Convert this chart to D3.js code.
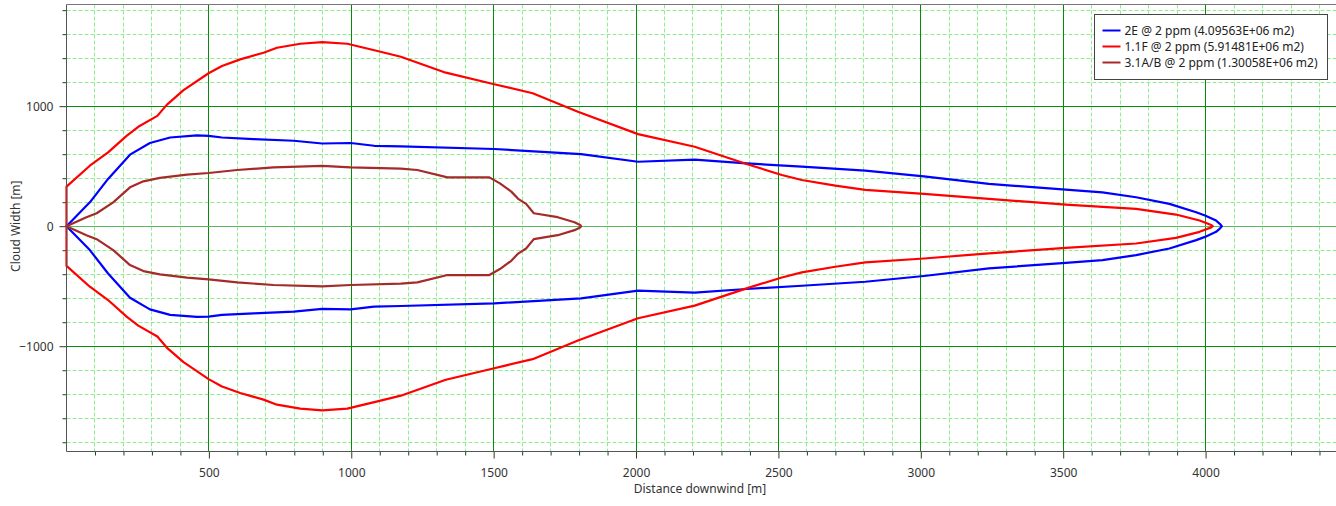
<!DOCTYPE html>
<head>
	<meta charset="utf-8">
	<script src="https://d3js.org/d3.v7.min.js"></script>
	<style>
		body { margin: 0; background: #fff; }
		text { font-family: "Noto Sans", "Open Sans", sans-serif; }
	</style>
</head>
<body>
	<div id="chart"></div>
	<script>

	var width = 1336,
	height = 506;

	var dist2E = [0, 82, 146, 223, 293, 364, 458, 499, 546, 657, 798, 898, 998, 1080, 1174, 1502, 1807, 2007, 2206, 2388, 2582, 2805, 3011, 3239, 3509, 3638, 3756, 3873, 3967, 3998, 4037, 4050, 4057];
	var half2E = [0, 199, 394, 596, 693, 739, 756, 753, 739, 726, 712, 689, 693, 670, 665, 643, 601, 537, 554, 523, 496, 463, 415, 352, 305, 282, 241, 186, 116, 89, 47, 20, 0];

	var dist11F = [0, 82, 146, 211, 252, 319, 352, 411, 499, 546, 610, 692, 739, 821, 898, 986, 1103, 1174, 1332, 1502, 1637, 1796, 2007, 2206, 2388, 2512, 2582, 2700, 2805, 3011, 3239, 3509, 3756, 3896, 3979, 4020, 4025];
	var half11F = [330, 504, 615, 753, 828, 919, 1011, 1133, 1274, 1335, 1390, 1445, 1487, 1520, 1534, 1520, 1453, 1412, 1279, 1183, 1108, 953, 767, 662, 518, 427, 385, 338, 302, 269, 227, 180, 144, 97, 47, 10, 0];

	var dist31AB = [0, 70, 106, 164, 223, 270, 328, 423, 499, 599, 727, 898, 998, 1174, 1232, 1338, 1485, 1522, 1562, 1586, 1614, 1641, 1725, 1784, 1805, 1807];
	var half31AB = [0, 75, 108, 199, 324, 374, 402, 429, 443, 468, 490, 502, 490, 479, 468, 407, 407, 357, 288, 228, 186, 108, 75, 33, 8, 0];

	var seriesNames = ["2E @ 2 ppm (4.09563E+06 m2)", "1.1F @ 2 ppm (5.91481E+06 m2)", "3.1A/B @ 2 ppm (1.30058E+06 m2)"];
	var seriesColors = ["#0000ff", "#ff0000", "#a52a2a"];
	var xTickLabels = [500, 1000, 1500, 2000, 2500, 3000, 3500, 4000];
	var yTickLabels = [-1000, 0, 1000];

	var pLeft = 66.5, pRight = 1336, pTop = 4.5, pBottom = 451.5;

	var x = d3.scaleLinear().domain([0, 4458]).range([pLeft, pRight]);
	var y = d3.scaleLinear().domain([-1877, 1847]).range([pBottom, pTop]);

	var svg = d3.select("#chart").append("svg")
		.attr("width", width)
		.attr("height", height);

	// minor grid
	var xMinor = d3.range(100, 4458, 100).filter(d => d % 500 != 0);
	var yMinor = d3.range(-1800, 1847, 200).filter(d => d % 1000 != 0);
	var xMajor = d3.range(500, 4458, 500);
	var yMajor = [-1000, 0, 1000];

	function px(v) { return Math.round(v - 0.5) + 0.5; }

	svg.append("g").selectAll("line")
		.data(xMinor)
		.join("line")
			.attr("x1", d => px(x(d))).attr("x2", d => px(x(d)))
			.attr("y1", pTop).attr("y2", pBottom)
			.attr("stroke", "#90ee90").attr("stroke-dasharray", "4,2");
	svg.append("g").selectAll("line")
		.data(yMinor)
		.join("line")
			.attr("x1", pLeft).attr("x2", pRight)
			.attr("y1", d => px(y(d))).attr("y2", d => px(y(d)))
			.attr("stroke", "#90ee90").attr("stroke-dasharray", "4,2");

	// major grid
	svg.append("g").selectAll("line")
		.data(xMajor)
		.join("line")
			.attr("x1", d => px(x(d))).attr("x2", d => px(x(d)))
			.attr("y1", pTop).attr("y2", pBottom)
			.attr("stroke", "#0a8a0a");
	svg.append("g").selectAll("line")
		.data(yMajor)
		.join("line")
			.attr("x1", pLeft).attr("x2", pRight)
			.attr("y1", d => px(y(d))).attr("y2", d => px(y(d)))
			.attr("stroke", d => d == 0 ? "#5cb85c" : "#0a8a0a");

	// axes
	var xAxis = d3.axisBottom(x).tickValues(xTickLabels).tickSize(7).tickPadding(10).tickFormat(d3.format("d"));
	var xAxisMinor = d3.axisBottom(x).tickValues(xMinor).tickSize(4).tickFormat("");
	var yAxis = d3.axisLeft(y).tickValues(yTickLabels).tickSize(7).tickPadding(6).tickFormat(d3.format("d"));
	var yAxisMinor = d3.axisLeft(y).tickValues(yMinor).tickSize(4).tickFormat("");

	function styleAxis(g) {
		g.select(".domain").remove();
		g.selectAll("line").attr("stroke", "#333");
		g.selectAll("text").attr("fill", "#333").style("font-size", "12px");
	}

	svg.append("g").attr("transform", "translate(0," + pBottom + ")").call(xAxis).call(styleAxis);
	svg.append("g").attr("transform", "translate(0," + pBottom + ")").call(xAxisMinor).call(styleAxis);
	svg.append("g").attr("transform", "translate(" + pLeft + ",0)").call(yAxis).call(styleAxis);
	svg.append("g").attr("transform", "translate(" + pLeft + ",0)").call(yAxisMinor).call(styleAxis);

	// contours: upper side out to the tip, lower side back
	var line = d3.line()
		.x(d => x(d[0]))
		.y(d => y(d[1]));

	function contour(dist, half) {
		var pts = dist.map((d, i) => [d, half[i]]);
		var back = dist.map((d, i) => [d, -half[i]]).reverse();
		return pts.concat(back.slice(1));
	}

	var contours = [contour(dist2E, half2E), contour(dist11F, half11F), contour(dist31AB, half31AB)];

	svg.append("g").selectAll("path")
		.data(contours)
		.join("path")
			.attr("d", d => line(d) + "Z")
			.attr("fill", "none")
			.attr("stroke", (d, i) => seriesColors[i])
			.attr("stroke-width", 2.2)
			.attr("stroke-linejoin", "round");

	// frame
	svg.append("line").attr("x1", pLeft).attr("x2", pLeft).attr("y1", pTop).attr("y2", pBottom).attr("stroke", "#555");
	svg.append("line").attr("x1", pLeft).attr("x2", pRight).attr("y1", pBottom).attr("y2", pBottom).attr("stroke", "#555");
	svg.append("line").attr("x1", pLeft).attr("x2", pRight).attr("y1", pTop).attr("y2", pTop).attr("stroke", "#777");

	// axis titles
	svg.append("text")
		.attr("x", 700).attr("y", 493)
		.attr("text-anchor", "middle")
		.attr("fill", "#333")
		.style("font-size", "12px")
		.text("Distance downwind [m]");
	svg.append("text")
		.attr("transform", "translate(20," + y(0) + ") rotate(-90)")
		.attr("text-anchor", "middle")
		.attr("fill", "#333")
		.style("font-size", "12px")
		.text("Cloud Width [m]");

	// legend
	var legend = svg.append("g").attr("transform", "translate(1094.5,14.5)");
	legend.append("rect")
		.attr("width", 233).attr("height", 65)
		.attr("fill", "#fff").attr("stroke", "#444");
	var items = legend.selectAll("g")
		.data(seriesNames)
		.join("g")
			.attr("transform", (d, i) => "translate(0," + (16 + i * 16) + ")");
	items.append("line")
		.attr("x1", 8).attr("x2", 26)
		.attr("stroke", (d, i) => seriesColors[i])
		.attr("stroke-width", 2);
	items.append("text")
		.attr("x", 30).attr("dy", "0.35em")
		.attr("fill", "#222")
		.style("font-size", "12px")
		.text(d => d);
</script>
</body>
</html>
